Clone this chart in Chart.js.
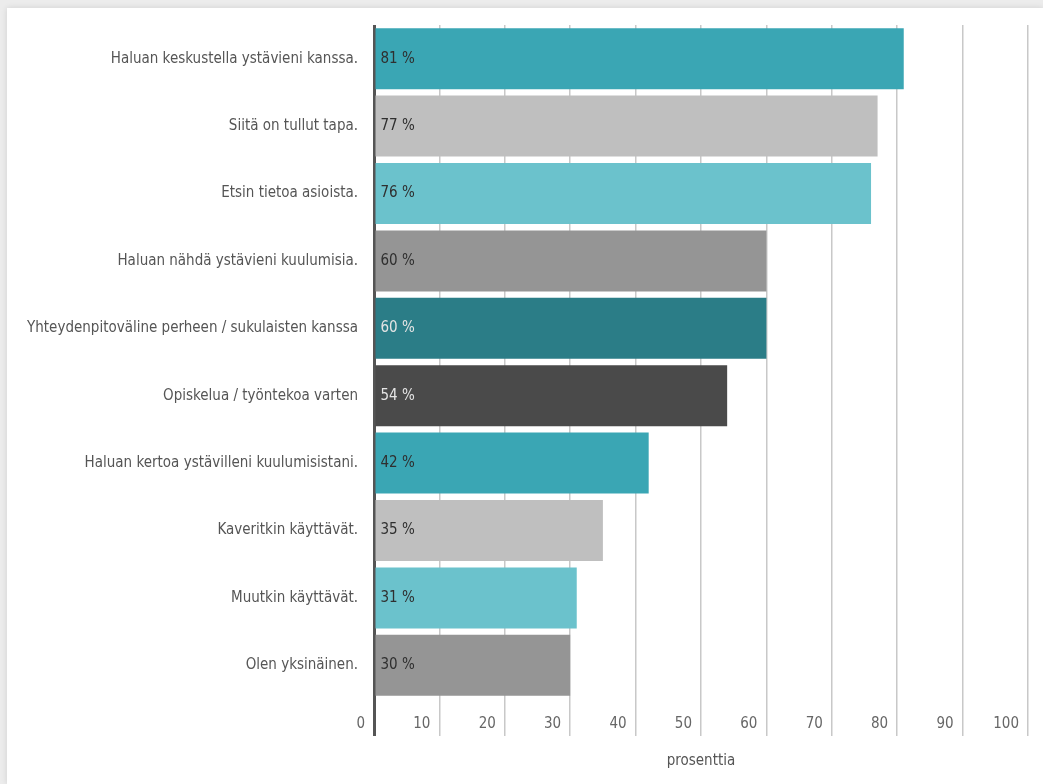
<!DOCTYPE html>
<html>
<head>
<meta charset="utf-8">
<script src="https://cdn.jsdelivr.net/npm/chart.js@4"></script>
<style>
    body { margin: 0; background: #ececec; }
    .card {
        position: absolute;
        left: 7px;
        top: 8px;
        width: 1036px;
        height: 776px;
        background: #fff;
        box-shadow: 0 0 6px rgba(0, 0, 0, 0.12);
    }
</style>
</head>
<body>
<div class="card">
    <canvas id="reasonsChart" width="1036" height="776"></canvas>
</div>
<script>
// データ
const categories = [
    'Haluan keskustella ystävieni kanssa.',
    'Siitä on tullut tapa.',
    'Etsin tietoa asioista.',
    'Haluan nähdä ystävieni kuulumisia.',
    'Yhteydenpitoväline perheen / sukulaisten kanssa',
    'Opiskelua / työntekoa varten',
    'Haluan kertoa ystävilleni kuulumisistani.',
    'Kaveritkin käyttävät.',
    'Muutkin käyttävät.',
    'Olen yksinäinen.'
];
const values = [81, 77, 76, 60, 60, 54, 42, 35, 31, 30];
const xTicks = [0, 10, 20, 30, 40, 50, 60, 70, 80, 90, 100];

// 色
const barColors = ['#3aa6b4', '#bfbfbf', '#6bc2cc', '#959595', '#2b7d87', '#4a4a4a', '#3aa6b4', '#bfbfbf', '#6bc2cc', '#959595'];
const valueColors = ['#2f2f2f', '#2f2f2f', '#2f2f2f', '#2f2f2f', '#e4e4e4', '#e4e4e4', '#2f2f2f', '#2f2f2f', '#2f2f2f', '#2f2f2f'];

const fontFamily = "'Liberation Sans Narrow', 'DejaVu Sans Condensed', sans-serif";
Chart.defaults.font.family = fontFamily;
Chart.defaults.font.size = 15;
Chart.defaults.color = '#555';

// バー内の値ラベル
const valueLabels = {
    id: 'valueLabels',
    afterDatasetsDraw(chart) {
        const ctx = chart.ctx;
        const meta = chart.getDatasetMeta(0);
        ctx.save();
        ctx.font = '15px ' + fontFamily;
        ctx.textAlign = 'left';
        ctx.textBaseline = 'middle';
        meta.data.forEach((bar, i) => {
            ctx.fillStyle = valueColors[i];
            ctx.fillText(values[i] + ' %', bar.base + 5, bar.y);
        });
        ctx.restore();
    }
};

new Chart(document.getElementById('reasonsChart'), {
    type: 'bar',
    data: {
        labels: categories,
        datasets: [{
            data: values,
            backgroundColor: barColors,
            borderWidth: 0,
            barPercentage: 0.905,
            categoryPercentage: 1
        }]
    },
    options: {
        indexAxis: 'y',
        responsive: false,
        animation: false,
        layout: {
            padding: { top: 17, right: 15, bottom: 0, left: 0 }
        },
        plugins: {
            legend: { display: false },
            tooltip: { enabled: false }
        },
        scales: {
            x: {
                min: 0,
                max: 100,
                afterBuildTicks(scale) {
                    scale.ticks = xTicks.map(v => ({ value: v }));
                },
                afterFit(scale) {
                    scale.height = 85;
                },
                border: { display: false },
                grid: {
                    color: ctx => ctx.index === 0 ? '#555' : '#c8c8c8',
                    lineWidth: ctx => ctx.index === 0 ? 3 : 1.5,
                    tickLength: 37
                },
                ticks: {
                    color: '#666',
                    align: 'end',
                    labelOffset: -9,
                    padding: -21,
                    maxRotation: 0,
                    autoSkip: false
                },
                title: {
                    display: true,
                    text: 'prosenttia',
                    color: '#555',
                    padding: { top: 0, bottom: 14 }
                }
            },
            y: {
                afterFit(scale) {
                    scale.width = 367;
                    scale.paddingTop = 0;
                    scale.paddingBottom = 0;
                },
                border: { display: false },
                grid: { display: false, drawTicks: false },
                ticks: {
                    color: '#555',
                    padding: 16
                }
            }
        }
    },
    plugins: [valueLabels]
});
</script>
</body>
</html>
